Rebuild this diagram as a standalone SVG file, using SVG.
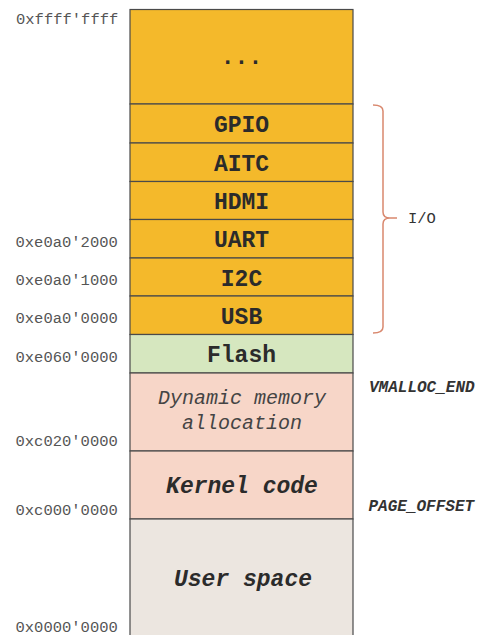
<svg xmlns="http://www.w3.org/2000/svg" width="477" height="635" viewBox="0 0 477 635">
  <style>
    .blk { stroke: #4a4a4a; stroke-width: 1.2; }
    .io { fill: #F4B92B; }
    .flash { fill: #D6E7BF; }
    .kern { fill: #F7D6C8; }
    .user { fill: #ECE6E0; }
    .lbl { font-family: "Liberation Mono", "Courier New", monospace; font-weight: bold; font-size: 23px; fill: #2b2b2b; text-anchor: middle; }
    .lbl-i { font-family: "Liberation Mono", "Courier New", monospace; font-style: italic; font-size: 20px; fill: #444; text-anchor: middle; }
    .lbl-bi { font-family: "Liberation Mono", "Courier New", monospace; font-style: italic; font-weight: bold; font-size: 23px; fill: #2b2b2b; text-anchor: middle; }
    .addr { font-family: "Liberation Mono", "Courier New", monospace; font-size: 15.5px; fill: #555; }
    .sym { font-family: "Liberation Mono", "Courier New", monospace; font-style: italic; font-weight: bold; font-size: 16px; fill: #333; }
    .brace { fill: none; stroke: #D9886E; stroke-width: 1.5; }
  </style>

  <!-- memory regions, top (high addresses) to bottom -->
  <g id="top">
    <rect class="blk io" x="130" y="9.5" width="223" height="94.5"/>
    <text class="lbl" x="241.5" y="64">...</text>
  </g>
  <g id="gpio">
    <rect class="blk io" x="130" y="104" width="223" height="39"/>
    <text class="lbl" x="241.5" y="131.5">GPIO</text>
  </g>
  <g id="aitc">
    <rect class="blk io" x="130" y="143" width="223" height="38.5"/>
    <text class="lbl" x="241.5" y="170.5">AITC</text>
  </g>
  <g id="hdmi">
    <rect class="blk io" x="130" y="181.5" width="223" height="38"/>
    <text class="lbl" x="241.5" y="208.5">HDMI</text>
  </g>
  <g id="uart">
    <rect class="blk io" x="130" y="219.5" width="223" height="38.5"/>
    <text class="lbl" x="241.5" y="247">UART</text>
  </g>
  <g id="i2c">
    <rect class="blk io" x="130" y="258" width="223" height="38"/>
    <text class="lbl" x="241.5" y="285.5">I2C</text>
  </g>
  <g id="usb">
    <rect class="blk io" x="130" y="296" width="223" height="38.5"/>
    <text class="lbl" x="241.5" y="323.5">USB</text>
  </g>
  <g id="flash">
    <rect class="blk flash" x="130" y="334.5" width="223" height="38.5"/>
    <text class="lbl" x="241.5" y="361.5">Flash</text>
  </g>
  <g id="vmalloc">
    <rect class="blk kern" x="130" y="373" width="223" height="78"/>
    <text class="lbl-i" x="242" y="404">Dynamic memory</text>
    <text class="lbl-i" x="242" y="429">allocation</text>
  </g>
  <g id="kernel">
    <rect class="blk kern" x="130" y="451" width="223" height="68"/>
    <text class="lbl-bi" x="242" y="492.5">Kernel code</text>
  </g>
  <g id="user">
    <rect class="blk user" x="130" y="519" width="223" height="120"/>
    <text class="lbl-bi" x="243" y="585.5">User space</text>
  </g>

  <!-- address labels -->
  <g id="addresses">
    <text class="addr" x="16" y="24">0xffff'ffff</text>
    <text class="addr" x="15.5" y="247">0xe0a0'2000</text>
    <text class="addr" x="15.5" y="285">0xe0a0'1000</text>
    <text class="addr" x="15.5" y="323">0xe0a0'0000</text>
    <text class="addr" x="15.5" y="361.5">0xe060'0000</text>
    <text class="addr" x="15.5" y="446">0xc020'0000</text>
    <text class="addr" x="15.5" y="515">0xc000'0000</text>
    <text class="addr" x="15.5" y="631.5">0x0000'0000</text>
  </g>

  <!-- kernel symbols -->
  <g id="symbols">
    <text class="sym" x="369" y="391.5">VMALLOC_END</text>
    <text class="sym" x="368.5" y="510.5">PAGE_OFFSET</text>
  </g>

  <!-- brace grouping the I/O range -->
  <g id="connectors">
    <path class="brace" d="M373 105 Q383 105 383 111 L383 212 Q383 218 390 218 L397 218 M390 218 Q383 218 383 224 L383 327 Q383 333 373 333"/>
    <text x="408" y="223" style="font-family: 'Liberation Mono', 'Courier New', monospace; font-size: 15.5px; fill: #333;">I/O</text>
  </g>
</svg>
